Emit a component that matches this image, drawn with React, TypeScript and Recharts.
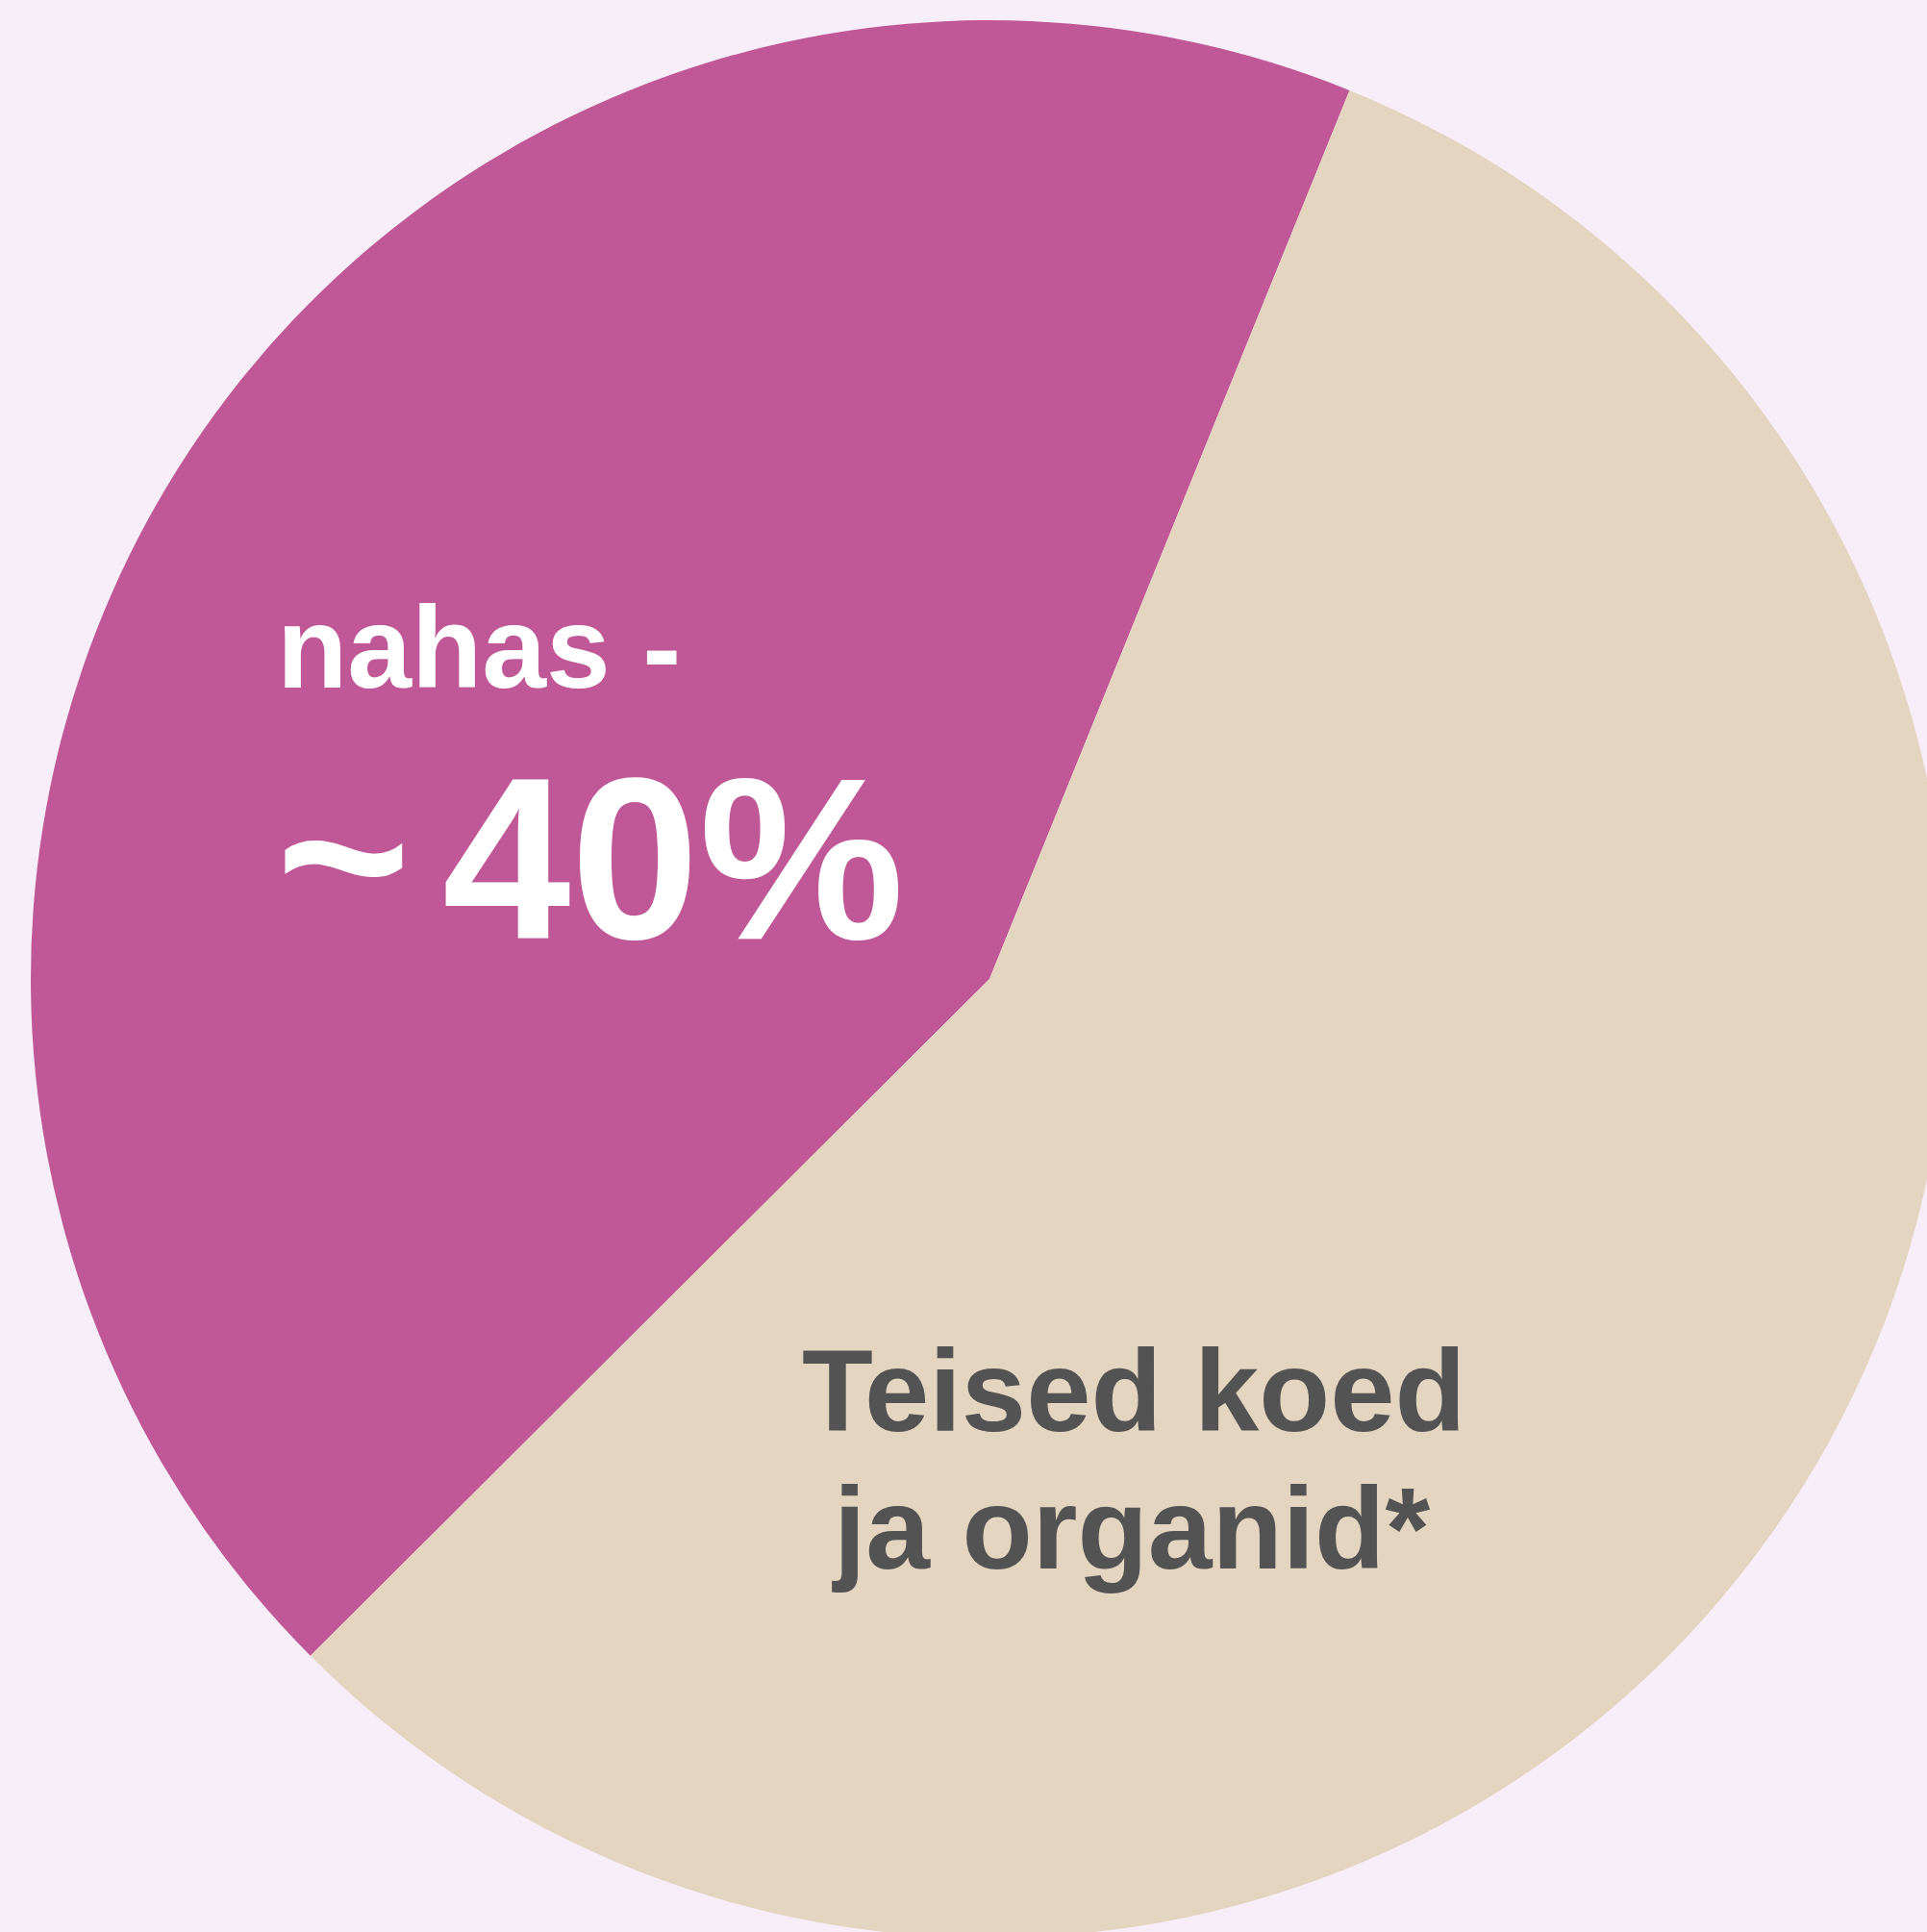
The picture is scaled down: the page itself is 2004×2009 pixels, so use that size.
import React from 'react';
import { PieChart, Pie, Cell } from 'recharts';

const sliceNames = ['nahas', 'Teised koed ja organid*'];
const sliceValues = [43.6, 56.4];
const sliceColors = ['#C05797', '#E4D5C0'];
const labelTitle = 'nahas -';
const labelApprox = '~';
const labelPercent = '40%';
const labelOther = ['Teised koed', 'ja organid*'];

const data = sliceNames.map((name, i) => ({ name, value: sliceValues[i] }));

const W = 2004;
const H = 2009;
const CX = 1029;
const CY = 1018;
const R = 997;
const START = 67.94;

const FONT = 'Arial, "Liberation Sans", Helvetica, sans-serif';

const renderLabel = (props: any) => {
  const { index } = props;
  if (index === 0) {
    return (
      <g key="lbl0">
        <text x={288} y={715} fill="#FFFFFF" fontFamily={FONT} fontWeight="bold" fontSize={120}>
          {labelTitle}
        </text>
        <text x={287} y={972} fill="#FFFFFF" fontFamily={FONT} fontWeight="bold" fontSize={240}>
          {labelApprox}
        </text>
        <text x={460} y={976} fill="#FFFFFF" fontFamily={FONT} fontWeight="bold" fontSize={240}>
          {labelPercent}
        </text>
      </g>
    );
  }
  return (
    <g key="lbl1">
      <text x={834} y={1488} fill="#535353" fontFamily={FONT} fontWeight="bold" fontSize={121}>
        {labelOther[0]}
      </text>
      <text x={867} y={1631} fill="#535353" fontFamily={FONT} fontWeight="bold" fontSize={120}>
        {labelOther[1]}
      </text>
    </g>
  );
};

export default function App() {
  return (
    <div style={{ position: 'fixed', left: 0, top: 0, width: W, height: H, background: '#F7EEF9', overflow: 'hidden' }}>
      <PieChart width={W} height={H} margin={{ top: 0, right: 0, bottom: 0, left: 0 }}>
        <Pie
          data={data}
          dataKey="value"
          nameKey="name"
          cx={CX}
          cy={CY}
          innerRadius={0}
          outerRadius={R}
          startAngle={START}
          endAngle={START + 360}
          stroke="none"
          label={renderLabel}
          labelLine={false}
          isAnimationActive={false}
        >
          {data.map((d, i) => (
            <Cell key={d.name} fill={sliceColors[i]} />
          ))}
        </Pie>
      </PieChart>
    </div>
  );
}
